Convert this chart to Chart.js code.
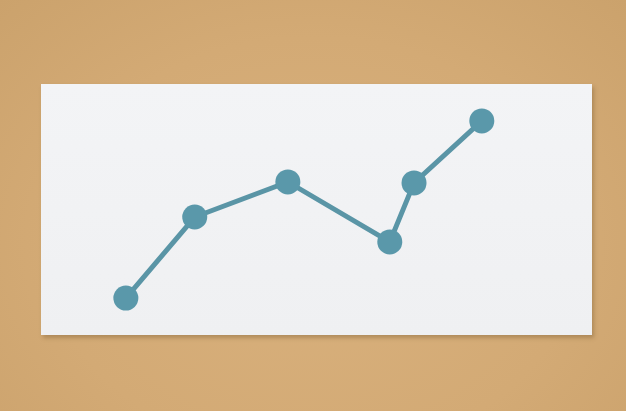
<!DOCTYPE html>
<html>
<head>
<meta charset="utf-8">
<script src="https://cdn.jsdelivr.net/npm/chart.js@4/dist/chart.umd.min.js"></script>
<style>
  html, body { margin: 0; padding: 0; }
  body {
    width: 626px; height: 411px; overflow: hidden;
    background: radial-gradient(ellipse at 50% 60%, #d9b17d 0%, #d3aa75 60%, #cba26c 100%);
    position: relative;
  }
  #card {
    position: absolute; left: 41px; top: 84px; width: 551px; height: 251px;
    background: linear-gradient(180deg, #f3f4f6 0%, #eff0f2 100%);
    box-shadow: 2px 3px 4px rgba(110, 80, 40, 0.35);
  }
  #chart { display: block; }
</style>
</head>
<body>
<div id="card"><canvas id="chart" width="551" height="251"></canvas></div>
<script>
// ---------- 数据（读自图片，x/y 都按 0–100 估算） ----------
const xValues = [15.4, 27.9, 44.8, 63.3, 67.7, 80.0];
const yValues = [14.7, 47.0, 61.0, 37.1, 60.6, 85.3];

const points = xValues.map((x, i) => ({ x, y: yValues[i] }));

new Chart(document.getElementById('chart'), {
  type: 'scatter',
  data: {
    datasets: [{
      data: points,
      showLine: true,
      borderColor: '#5a95a6',
      borderWidth: 5,
      backgroundColor: '#5a98aa',
      pointBorderColor: '#5a98aa',
      pointBorderWidth: 0,
      pointRadius: 12.5,
      pointHoverRadius: 12.5,
      tension: 0
    }]
  },
  options: {
    responsive: false,
    animation: false,
    layout: { padding: 0, autoPadding: false },
    plugins: {
      legend: { display: false },
      tooltip: { enabled: false }
    },
    scales: {
      x: { type: 'linear', min: 0, max: 100, display: false },
      y: { min: 0, max: 100, display: false }
    }
  }
});
</script>
</body>
</html>
